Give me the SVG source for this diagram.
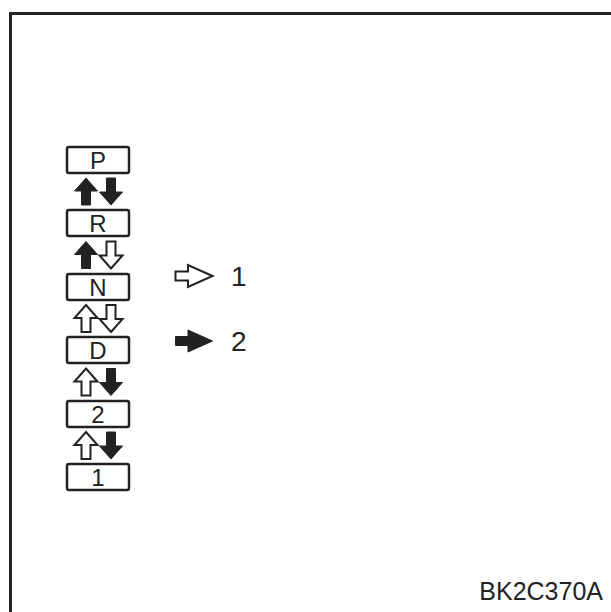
<svg xmlns="http://www.w3.org/2000/svg" width="611" height="612" viewBox="0 0 611 612">
<style>
.box{fill:#fff;stroke:#222;stroke-width:2.5}
.lbl{font-family:"Liberation Sans",Arial,sans-serif;font-size:24px;fill:#222;text-anchor:middle}
.num{font-family:"Liberation Sans",Arial,sans-serif;font-size:28px;fill:#222}
.f{fill:#222;stroke:#222;stroke-width:1}
.o{fill:#fff;stroke:#222;stroke-width:2;stroke-linejoin:miter}
</style>
<defs>
<path id="up" d="M0,-13.5 L11.5,-0.5 L4.5,-0.5 L4.5,13.5 L-4.5,13.5 L-4.5,-0.5 L-11.5,-0.5 Z"/>
<path id="dn" d="M0,13.5 L11.5,0.5 L4.5,0.5 L4.5,-13.5 L-4.5,-13.5 L-4.5,0.5 L-11.5,0.5 Z"/>
<path id="rt" d="M18.5,0 L-6,-11 L-6,-4.5 L-18.5,-4.5 L-18.5,4.5 L-6,4.5 L-6,11 Z"/>
</defs>
<path d="M10.5,612 L10.5,13.5 L611,13.5" fill="none" stroke="#222" stroke-width="3"/>
<g id="node-P"><rect class="box" x="67" y="147" width="62" height="26" rx="2"/><text class="lbl" x="98" y="169">P</text></g>
<g id="node-R"><rect class="box" x="67" y="210" width="62" height="26" rx="2"/><text class="lbl" x="98" y="232">R</text></g>
<g id="node-N"><rect class="box" x="67" y="274" width="62" height="26" rx="2"/><text class="lbl" x="98" y="296">N</text></g>
<g id="node-D"><rect class="box" x="67" y="337" width="62" height="26" rx="2"/><text class="lbl" x="98" y="359">D</text></g>
<g id="node-2"><rect class="box" x="67" y="401" width="62" height="26" rx="2"/><text class="lbl" x="98" y="423">2</text></g>
<g id="node-1"><rect class="box" x="67" y="464" width="62" height="26" rx="2"/><text class="lbl" x="98" y="486">1</text></g>
<g id="connectors">
<use href="#up" class="f" x="86" y="191.5"/><use href="#dn" class="f" x="111" y="191.5"/>
<use href="#up" class="f" x="86" y="255"/><use href="#dn" class="o" x="111" y="255"/>
<use href="#up" class="o" x="86" y="318.5"/><use href="#dn" class="o" x="111" y="318.5"/>
<use href="#up" class="o" x="86" y="382"/><use href="#dn" class="f" x="111" y="382"/>
<use href="#up" class="o" x="86" y="445.5"/><use href="#dn" class="f" x="111" y="445.5"/>
</g>
<g id="legend-1"><use href="#rt" class="o" x="194" y="276"/><text class="num" x="231" y="286">1</text></g>
<g id="legend-2"><use href="#rt" class="f" x="194" y="341"/><text class="num" x="231" y="351">2</text></g>
<text x="603" y="600" font-family="Liberation Sans, Arial, sans-serif" font-size="25" fill="#222" text-anchor="end">BK2C370A</text>
</svg>
